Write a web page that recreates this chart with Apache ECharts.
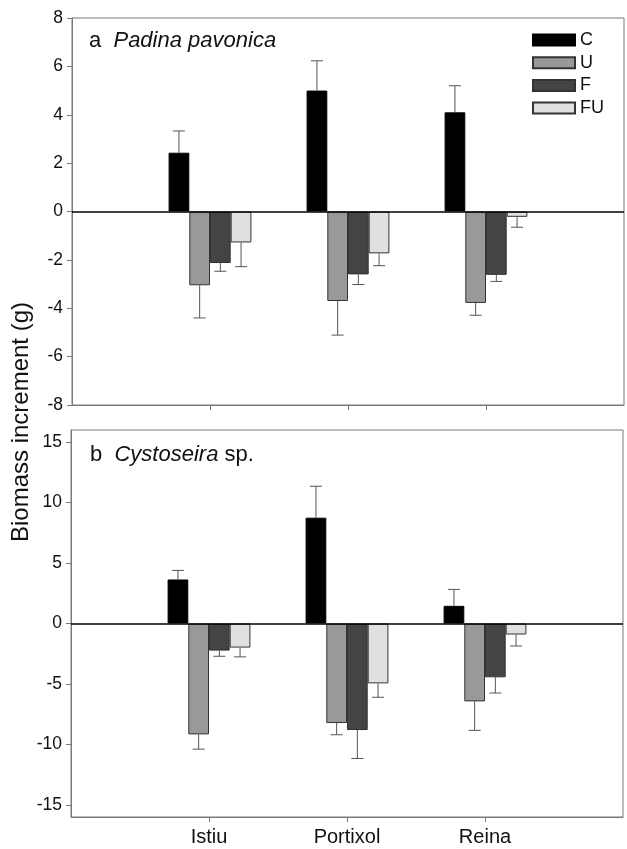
<!DOCTYPE html>
<html>
<head>
<meta charset="utf-8">
<script src="https://cdn.jsdelivr.net/npm/echarts@6/dist/echarts.min.js"></script>
<style>
html,body{margin:0;padding:0;background:#fff;}
#chart{width:627px;height:849px;}
</style>
</head>
<body>
<div id="chart"></div>
<script>
// ---- data ----
const sites = ['Istiu', 'Portixol', 'Reina'];
const treatments = ['C', 'U', 'F', 'FU'];

// Panel a: Padina pavonica (means, one-sided SE)
const padinaC = [2.43, 5.0, 4.1];
const padinaU = [-3.05, -3.7, -3.78];
const padinaF = [-2.13, -2.6, -2.62];
const padinaFU = [-1.28, -1.73, -0.22];
const padinaCErr = [0.9, 1.23, 1.1];
const padinaUErr = [1.35, 1.41, 0.51];
const padinaFErr = [0.34, 0.42, 0.27];
const padinaFUErr = [1.0, 0.51, 0.43];

// Panel b: Cystoseira sp.
const cystoC = [3.64, 8.75, 1.46];
const cystoU = [-9.17, -8.23, -6.44];
const cystoF = [-2.24, -8.81, -4.45];
const cystoFU = [-1.99, -4.95, -0.91];
const cystoCErr = [0.75, 2.6, 1.36];
const cystoUErr = [1.22, 0.97, 2.4];
const cystoFErr = [0.47, 2.35, 1.3];
const cystoFUErr = [0.77, 1.15, 0.95];

const topTicks = [-8, -6, -4, -2, 0, 2, 4, 6, 8];
const bottomTicks = [-15, -10, -5, 0, 5, 10, 15];

// ---- build ----
const FONT = '"Liberation Sans", Arial, Helvetica, sans-serif';
const colors = ['#000000', '#999999', '#444444', '#e0e0e0'];
const axisCats = [''].concat(sites, ['']);
const padinaMeans = [padinaC, padinaU, padinaF, padinaFU];
const padinaErrs = [padinaCErr, padinaUErr, padinaFErr, padinaFUErr];
const cystoMeans = [cystoC, cystoU, cystoF, cystoFU];
const cystoErrs = [cystoCErr, cystoUErr, cystoFErr, cystoFUErr];

const series = [];
function addPanel(means, errs, gi) {
  treatments.forEach((t, k) => {
    const s = {
      name: t, type: 'bar', xAxisIndex: gi, yAxisIndex: gi,
      data: [null].concat(means[k], [null]),
      barGap: '0%', barCategoryGap: '40%',
      itemStyle: { color: colors[k], borderColor: k === 0 ? '#000' : '#333', borderWidth: 1 },
      emphasis: { disabled: true },
      z: 2
    };
    if (k === 0) {
      s.markLine = {
        silent: true, symbol: 'none', animation: false,
        label: { show: false },
        lineStyle: { color: '#000', width: 1.5, type: 'solid' },
        data: [{ yAxis: 0 }]
      };
    }
    series.push(s);
    series.push({
      type: 'custom', xAxisIndex: gi, yAxisIndex: gi,
      data: means[k].map((m, i) => [i + 1, m, errs[k][i]]),
      encode: { x: 0, y: [1, 2] },
      silent: true, z: 3,
      renderItem: function (params, api) {
        const idx = api.value(0), mean = api.value(1), err = api.value(2);
        const end = mean >= 0 ? mean + err : mean - err;
        const p0 = api.coord([idx, mean]);
        const p1 = api.coord([idx, end]);
        const band = api.size([1, 0])[0];
        const bw = band * 0.6 / 4;
        const x = p0[0] + (k - 1.5) * bw;
        const st = { stroke: '#555', lineWidth: 1 };
        return {
          type: 'group',
          children: [
            { type: 'line', shape: { x1: x, y1: p0[1], x2: x, y2: p1[1] }, style: st },
            { type: 'line', shape: { x1: x - 6, y1: p1[1], x2: x + 6, y2: p1[1] }, style: st }
          ]
        };
      }
    });
  });
}
addPanel(padinaMeans, padinaErrs, 0);
addPanel(cystoMeans, cystoErrs, 1);

const axisGray = '#7a7a7a';
function xAx(gi, showLabels) {
  return {
    type: 'category', gridIndex: gi, data: axisCats, boundaryGap: false,
    axisLine: { onZero: false, lineStyle: { color: axisGray, width: 1 } },
    axisTick: { show: true, length: 5, interval: function (i) { return i >= 1 && i <= 3; }, lineStyle: { color: axisGray } },
    axisLabel: { show: showLabels, interval: 0, fontFamily: FONT, fontSize: 20, color: '#111', margin: 10 },
    splitLine: { show: false }
  };
}
function yAx(gi, min, max, ticks) {
  return {
    type: 'value', gridIndex: gi, min: min, max: max,
    axisLine: { show: true, lineStyle: { color: axisGray, width: 1 } },
    axisTick: { show: true, length: 5, customValues: ticks, lineStyle: { color: axisGray } },
    axisLabel: { customValues: ticks, fontFamily: FONT, fontSize: 17.5, color: '#111', margin: 9 },
    splitLine: { show: false }
  };
}

const option = {
  animation: false,
  backgroundColor: '#fff',
  grid: [
    { left: 72, top: 18, width: 552, height: 387, show: true, borderColor: axisGray, borderWidth: 1 },
    { left: 71, top: 430, width: 552, height: 387, show: true, borderColor: axisGray, borderWidth: 1 }
  ],
  xAxis: [xAx(0, false), xAx(1, true)],
  yAxis: [yAx(0, -8, 8, topTicks), yAx(1, -16, 16, bottomTicks)],
  legend: {
    data: treatments, orient: 'vertical', left: 527, top: 26,
    itemWidth: 42, itemHeight: 11, itemGap: 4.7, icon: 'rect',
    selectedMode: false,
    textStyle: { fontFamily: FONT, fontSize: 18, color: '#111', padding: [0, 0, 0, 0] }
  },
  title: [
    { left: 84, top: 25, text: 'a  {i|Padina pavonica}',
      textStyle: { fontFamily: FONT, fontSize: 22, fontWeight: 'normal', color: '#111',
        rich: { i: { fontFamily: FONT, fontSize: 22, fontStyle: 'italic', color: '#111' } } } },
    { left: 85, top: 439, text: 'b  {i|Cystoseira} sp.',
      textStyle: { fontFamily: FONT, fontSize: 22, fontWeight: 'normal', color: '#111',
        rich: { i: { fontFamily: FONT, fontSize: 22, fontStyle: 'italic', color: '#111' } } } }
  ],
  graphic: [
    { type: 'text', x: 21, y: 422, rotation: Math.PI / 2,
      style: { text: 'Biomass increment (g)', fontFamily: FONT, fontSize: 24, fill: '#111',
        align: 'center', verticalAlign: 'middle' } }
  ],
  series: series
};

const chart = echarts.init(document.getElementById('chart'), null, { renderer: 'canvas' });
chart.setOption(option);
</script>
</body>
</html>
